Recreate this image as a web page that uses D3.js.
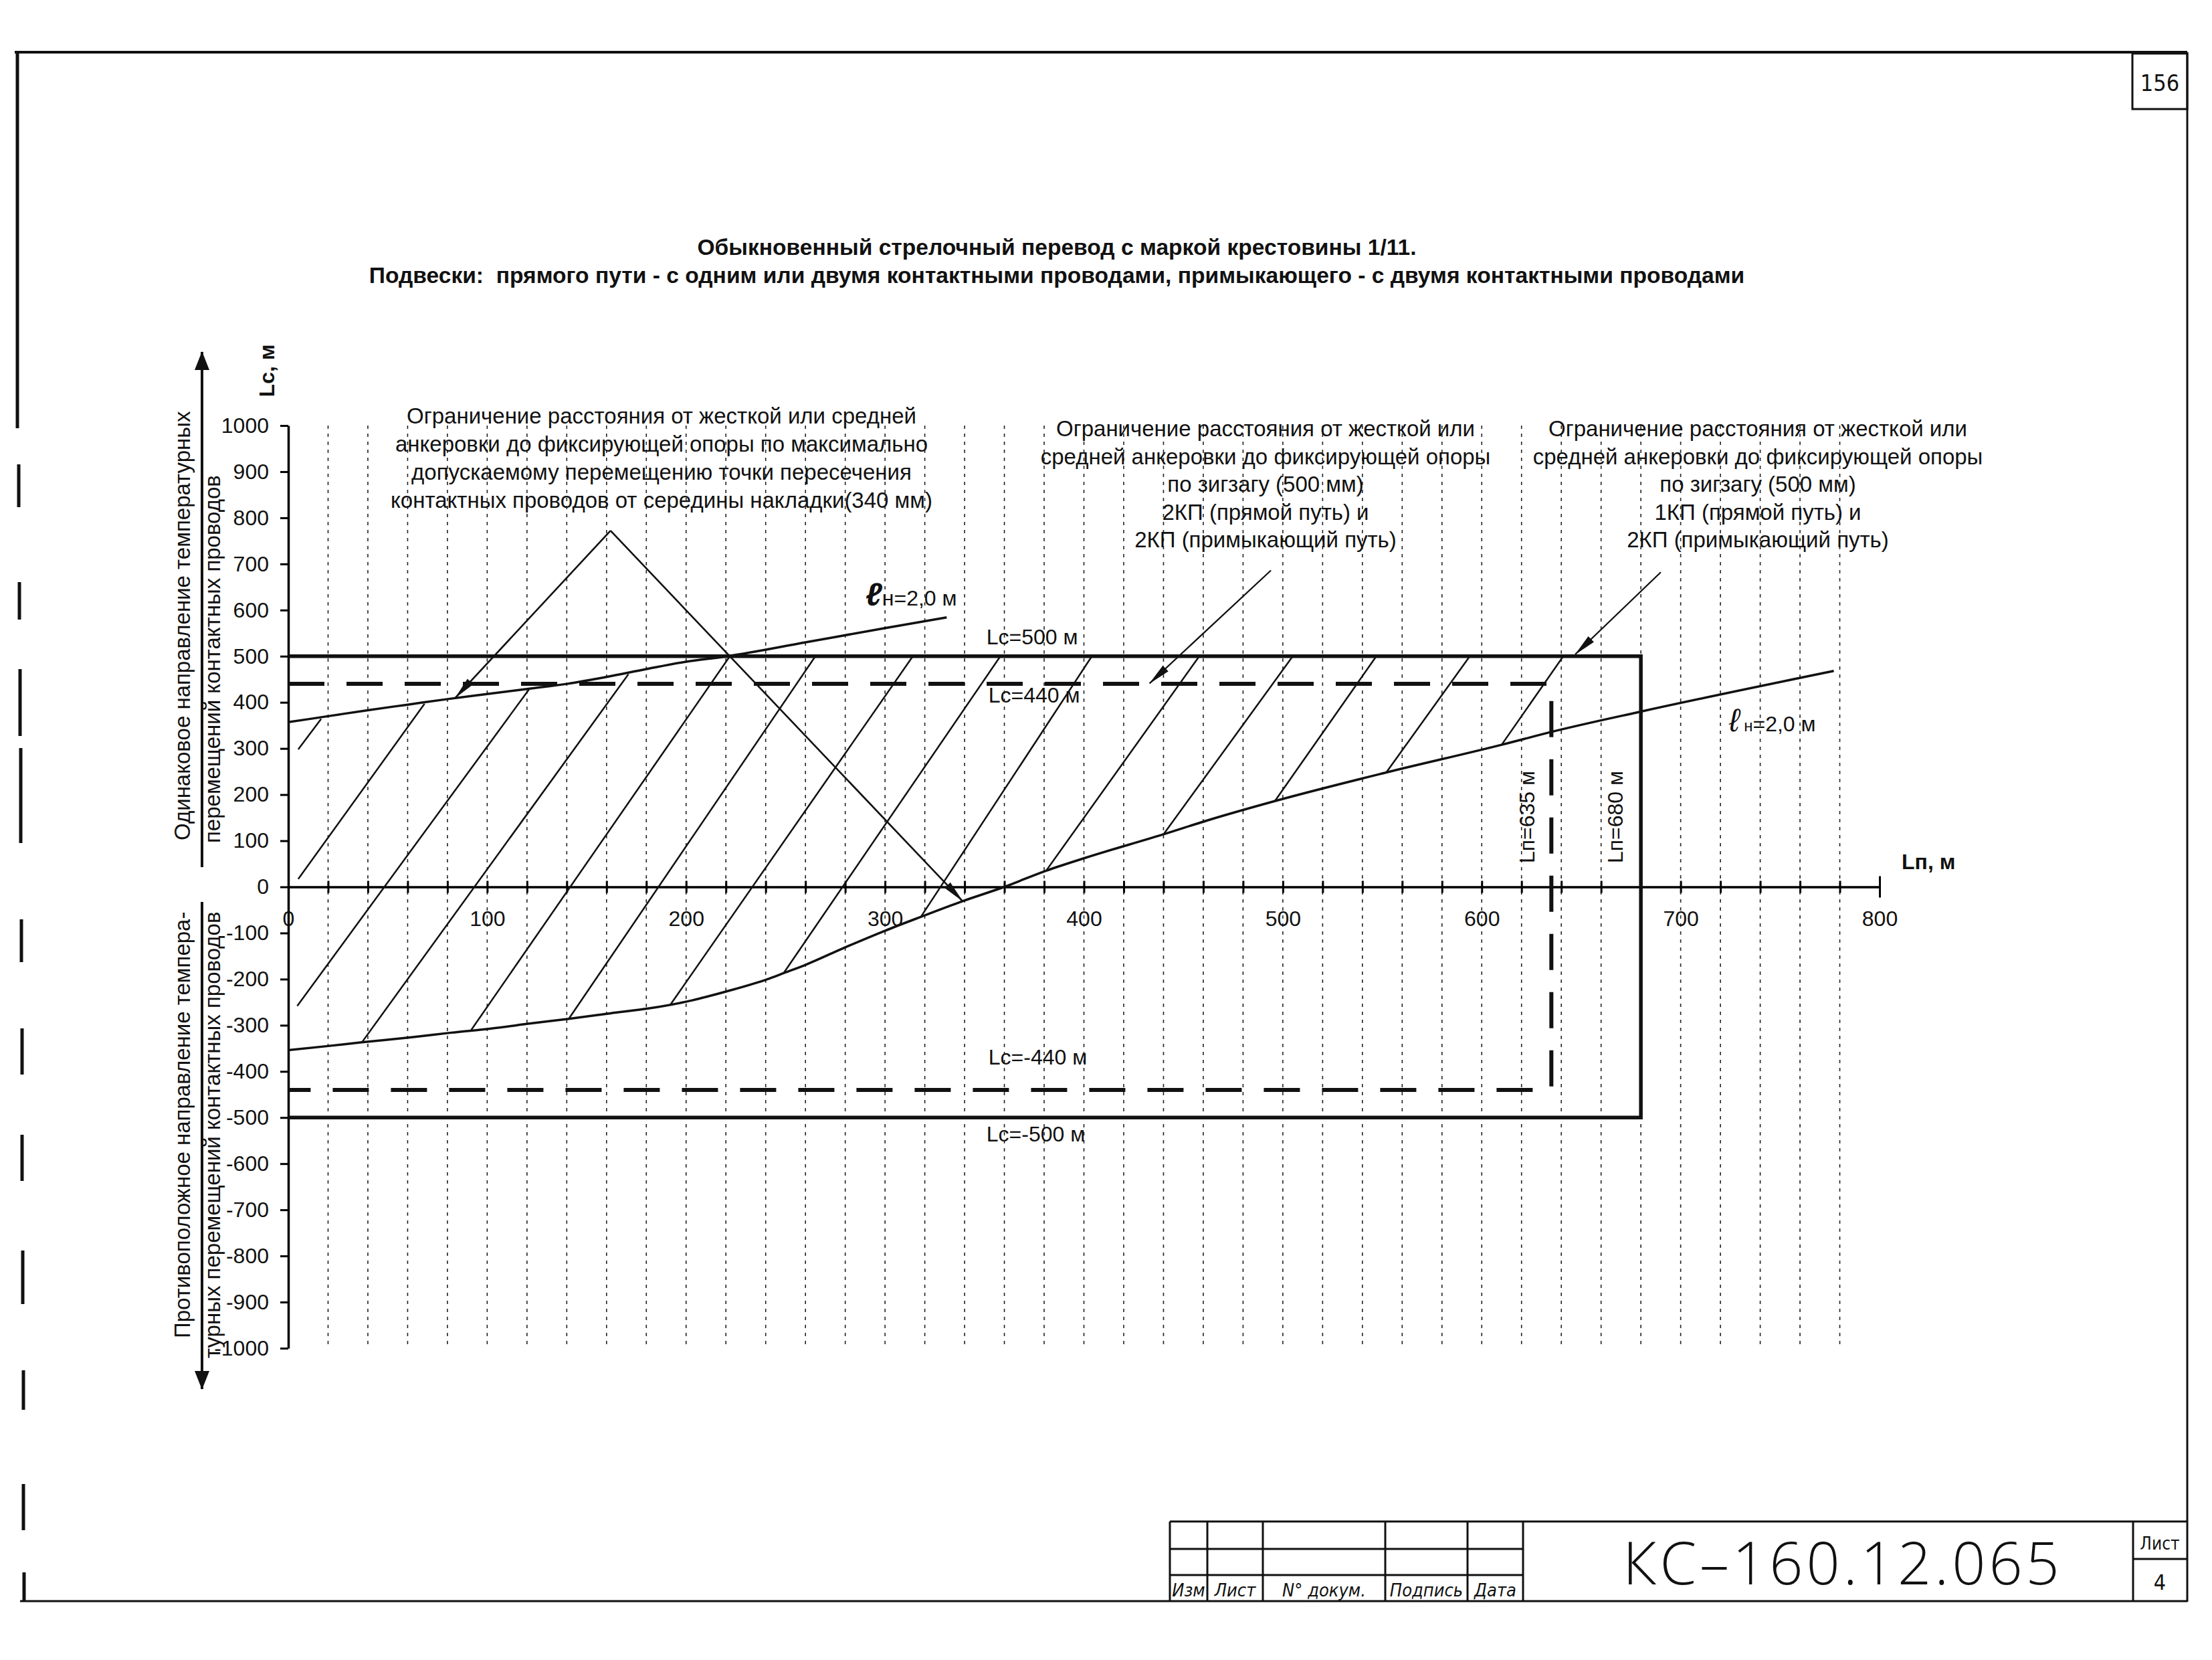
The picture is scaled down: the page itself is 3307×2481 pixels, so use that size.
<!DOCTYPE html>
<html>
<head>
<meta charset="utf-8">
<script src="https://cdn.jsdelivr.net/npm/d3@7"></script>
<style>
  html, body { margin: 0; padding: 0; background: #fff; }
  svg { display: block; }
  text { font-family: "Liberation Sans", Arial, sans-serif; fill: #111; white-space: pre; }
</style>
</head>
<body>
<div id="chart"></div>
<script>
// ---- values (Lп along x, Lс along y, metres) ----
const xTickValues = [0, 100, 200, 300, 400, 500, 600, 700, 800];
const yTickValues = [1000, 900, 800, 700, 600, 500, 400, 300, 200, 100, 0,
  -100, -200, -300, -400, -500, -600, -700, -800, -900, -1000];

// ℓн = 2,0 м, upper boundary
const upperLn = [[0, 357], [20, 370], [40, 383], [60, 395], [80, 407], [100, 418],
  [120, 429], [140, 440], [160, 455], [180, 472], [200, 488], [221, 500],
  [260, 530], [300, 561], [331, 584]];

// ℓн = 2,0 м, lower boundary
const lowerLn = [[0, -354], [20, -345], [37, -337], [62, -326], [82, -316], [102, -307],
  [122, -296], [141, -286], [162, -274], [182, -263], [203, -246], [220, -227],
  [241, -200], [249, -187], [260, -169], [280, -131], [300, -95], [318, -65],
  [339, -31], [360, 0], [381, 35], [400, 62], [440, 114], [462, 144], [496, 186],
  [552, 248], [610, 308], [636, 337], [680, 380], [777, 468]];

// hatching, [start, end]
const hatchLines = [
  [[5, 298], [16.5, 364]],
  [[5, 17], [68.5, 397]],
  [[4.5, -258], [121, 428]],
  [[37, -337], [171, 461]],
  [[92, -310], [222, 500]],
  [[141, -286], [265, 500]],
  [[192, -256], [314, 500]],
  [[249, -187], [358, 500]],
  [[318, -65], [404, 500]],
  [[381, 35], [458, 500]],
  [[440, 114], [505, 500]],
  [[496, 186], [547, 500]],
  [[552, 248], [594, 500]],
  [[610, 308], [641, 500]]
];

// limit of the crossing point displacement (340 мм)
const peakLeft = [[162, 772], [84, 410]];
const peakRight = [[162, 772], [339, -31]];

const solidLimit = [[0, 500], [680, 500], [680, -500], [0, -500]];
const dashedLimit = [[0, 440], [635, 440], [635, -440], [0, -440]];

const leaderMid = [[494, 686], [433, 441]];
const leaderRight = [[690, 682], [647, 504]];

const noteLeft = [
  "Ограничение расстояния от жесткой или средней",
  "анкеровки до фиксирующей опоры по максимально",
  "допускаемому перемещению точки пересечения",
  "контактных проводов от середины накладки(340 мм)"
];
const noteMid = [
  "Ограничение расстояния от жесткой или",
  "средней анкеровки до фиксирующей опоры",
  "по зигзагу (500 мм)",
  "2КП (прямой путь) и",
  "2КП (примыкающий путь)"
];
const noteRight = [
  "Ограничение расстояния от жесткой или",
  "средней анкеровки до фиксирующей опоры",
  "по зигзагу (500 мм)",
  "1КП (прямой путь) и",
  "2КП (примыкающий путь)"
];
const titleLines = [
  "Обыкновенный стрелочный перевод с маркой крестовины 1/11.",
  "Подвески:  прямого пути - с одним или двумя контактными проводами, примыкающего - с двумя контактными проводами"
];
const stampHeads = ["Изм", "Лист", "N° докум.", "Подпись", "Дата"];

// ---- drawing ----
const W = 3307, H = 2481;
const svg = d3.select("#chart").append("svg")
  .attr("width", W).attr("height", H);

const x = d3.scaleLinear().domain([0, 800]).range([431, 2810]);
const y = d3.scaleLinear().domain([-1000, 1000]).range([2015, 636]);
const line = d3.line().x(d => x(d[0])).y(d => y(d[1]));
const smooth = d3.line().x(d => x(d[0])).y(d => y(d[1])).curve(d3.curveMonotoneX);
const narrow = "'Liberation Sans Narrow','DejaVu Sans Condensed',sans-serif";

const defs = svg.append("defs");
defs.append("marker")
  .attr("id", "tip").attr("markerUnits", "userSpaceOnUse")
  .attr("viewBox", "0 0 34 14").attr("markerWidth", 34).attr("markerHeight", 14)
  .attr("refX", 33).attr("refY", 7).attr("orient", "auto")
  .append("path").attr("d", "M0,1L34,7L0,13Z").attr("fill", "#111");
defs.append("marker")
  .attr("id", "bigTip").attr("markerUnits", "userSpaceOnUse")
  .attr("viewBox", "0 0 28 22").attr("markerWidth", 28).attr("markerHeight", 22)
  .attr("refX", 27).attr("refY", 11).attr("orient", "auto")
  .append("path").attr("d", "M0,0L28,11L0,22Z").attr("fill", "#111");

// sheet frame
const frame = svg.append("g").attr("stroke", "#111").attr("fill", "none");
frame.append("line").attr("x1", 22).attr("y1", 78).attr("x2", 3270).attr("y2", 78).attr("stroke-width", 4);
frame.append("line").attr("x1", 3270).attr("y1", 78).attr("x2", 3270).attr("y2", 2394).attr("stroke-width", 3);
frame.append("line").attr("x1", 30).attr("y1", 2393).attr("x2", 3270).attr("y2", 2393).attr("stroke-width", 3);
const leftBits = [[78, 640, 26], [694, 758, 28], [870, 926, 29], [1000, 1100, 30], [1118, 1260, 31],
  [1374, 1438, 32], [1537, 1606, 33], [1696, 1765, 33], [1869, 1949, 34], [2048, 2107, 35],
  [2218, 2287, 35], [2350, 2394, 36]];
frame.selectAll(".lb").data(leftBits).join("line")
  .attr("x1", d => d[2]).attr("x2", d => d[2]).attr("y1", d => d[0]).attr("y2", d => d[1])
  .attr("stroke-width", 5);
frame.append("rect").attr("x", 3188).attr("y", 80).attr("width", 82).attr("height", 83).attr("stroke-width", 3);
svg.append("text").attr("x", 3229).attr("y", 136).attr("text-anchor", "middle")
  .attr("font-size", 34).style("font-family", narrow)
  .attr("font-stretch", "condensed").text("156");

// title block
const stamp = svg.append("g").attr("stroke", "#111").attr("fill", "none").attr("stroke-width", 3);
[2274, 2315, 2354].forEach(v => stamp.append("line").attr("x1", 1749).attr("x2", 2277).attr("y1", v).attr("y2", v));
stamp.append("line").attr("x1", 2277).attr("x2", 3270).attr("y1", 2274).attr("y2", 2274);
stamp.append("line").attr("x1", 3189).attr("x2", 3270).attr("y1", 2330).attr("y2", 2330);
[1749, 1805, 1888, 2071, 2194, 2277, 3189].forEach(v => stamp.append("line").attr("x1", v).attr("x2", v).attr("y1", 2274).attr("y2", 2393));
const stampCols = [1749, 1805, 1888, 2071, 2194, 2277];
svg.selectAll(".sh").data(stampHeads).join("text")
  .attr("x", (d, i) => (stampCols[i] + stampCols[i + 1]) / 2).attr("y", 2386)
  .attr("text-anchor", "middle").attr("font-size", 27).attr("font-style", "italic")
  .style("font-family", narrow)
  .attr("font-stretch", "condensed").text(d => d);
svg.append("text").attr("x", 2755).attr("y", 2368).attr("text-anchor", "middle")
  .attr("font-size", 88).attr("font-weight", 300).attr("letter-spacing", 5)
  .style("font-family", "'Open Sans',Lato,'Liberation Sans',sans-serif").text("КС–160.12.065");
svg.append("text").attr("x", 3229).attr("y", 2316).attr("text-anchor", "middle")
  .attr("font-size", 26).style("font-family", narrow)
  .attr("font-stretch", "condensed").text("Лист");
svg.append("text").attr("x", 3229).attr("y", 2376).attr("text-anchor", "middle")
  .attr("font-size", 32).style("font-family", narrow)
  .text("4");

// title
svg.selectAll(".title").data(titleLines).join("text")
  .attr("x", 1580).attr("y", (d, i) => 381 + i * 42)
  .attr("text-anchor", "middle").attr("font-size", 33.6).attr("font-weight", "bold")
  .text(d => d);

// vertical dotted grid
const grid = svg.append("g");
grid.selectAll("line").data(d3.range(20, 781, 20)).join("line")
  .attr("x1", d => x(d)).attr("x2", d => x(d))
  .attr("y1", y(1000)).attr("y2", y(-1000))
  .attr("stroke", "#222").attr("stroke-width", 1.6).attr("stroke-dasharray", "5,7");

// axes
const yAxis = svg.append("g").attr("transform", `translate(${x(0)},0)`)
  .call(d3.axisLeft(y).tickValues(yTickValues).tickSize(12).tickSizeOuter(0).tickPadding(17)
    .tickFormat(d => String(d)));
yAxis.select(".domain").attr("stroke-width", 3.5);
yAxis.selectAll(".tick line").attr("stroke-width", 3);
yAxis.selectAll("text").attr("font-size", 32).style("font-family", "'Liberation Sans', Arial, sans-serif").attr("fill", "#111");

const xAxis = svg.append("g").attr("transform", `translate(0,${y(0)})`)
  .call(d3.axisBottom(x).tickValues(d3.range(0, 801, 20)).tickSize(9).tickSizeOuter(0).tickPadding(27)
    .tickFormat(d => xTickValues.includes(d) ? String(d) : ""));
xAxis.select(".domain").attr("stroke-width", 3.5);
xAxis.selectAll(".tick line").attr("y1", d => d === 800 ? -16 : -9).attr("y2", d => d === 800 ? 16 : 9).attr("stroke-width", 3);
xAxis.selectAll("text").attr("font-size", 32).style("font-family", "'Liberation Sans', Arial, sans-serif").attr("fill", "#111");

// axis titles
svg.append("text").attr("x", 2843).attr("y", 1299).attr("font-size", 32).attr("font-weight", "bold").text("Lп, м");
svg.append("text").attr("transform", "translate(410,554) rotate(-90)").attr("text-anchor", "middle")
  .attr("font-size", 32).attr("font-weight", "bold").text("Lс, м");

// direction arrows and captions on the left
svg.append("line").attr("x1", 302).attr("x2", 302).attr("y1", 1296).attr("y2", 526)
  .attr("stroke", "#111").attr("stroke-width", 4).attr("marker-end", "url(#bigTip)");
svg.append("line").attr("x1", 302).attr("x2", 302).attr("y1", 1348).attr("y2", 2076)
  .attr("stroke", "#111").attr("stroke-width", 4).attr("marker-end", "url(#bigTip)");
const sideText = [
  ["Одинаковое направление температурных", 284, 1256],
  ["перемещений контактных проводов", 329, 1260],
  ["Противоположное направление темпера-", 284, 2000],
  ["турных перемещений контактных проводов", 329, 2030]
];
svg.selectAll(".side").data(sideText).join("text")
  .attr("transform", d => `translate(${d[1]},${d[2]}) rotate(-90)`)
  .attr("font-size", 33).text(d => d[0]);

// limit frames
svg.append("path").datum(dashedLimit).attr("d", line)
  .attr("fill", "none").attr("stroke", "#111").attr("stroke-width", 6).attr("stroke-dasharray", "54,33");
svg.append("path").datum(solidLimit).attr("d", line)
  .attr("fill", "none").attr("stroke", "#111").attr("stroke-width", 5.5);

// hatching
svg.append("g").selectAll("path").data(hatchLines).join("path")
  .attr("d", line).attr("fill", "none").attr("stroke", "#111").attr("stroke-width", 2.5);

// ℓн curves
[upperLn, lowerLn].forEach(c => svg.append("path").datum(c).attr("d", smooth)
  .attr("fill", "none").attr("stroke", "#111").attr("stroke-width", 3.5));

// displacement limit with arrows
[peakLeft, peakRight].forEach(c => svg.append("path").datum(c).attr("d", line)
  .attr("fill", "none").attr("stroke", "#111").attr("stroke-width", 2.6).attr("marker-end", "url(#tip)"));

// leaders
[leaderMid, leaderRight].forEach(c => svg.append("path").datum(c).attr("d", line)
  .attr("fill", "none").attr("stroke", "#111").attr("stroke-width", 2.3).attr("marker-end", "url(#tip)"));

// notes
function note(lines, cx, y0, step) {
  svg.append("g").selectAll("text").data(lines).join("text")
    .attr("x", cx).attr("y", (d, i) => y0 + i * step)
    .attr("text-anchor", "middle").attr("font-size", 33).text(d => d);
}
note(noteLeft, 989, 633, 42);
note(noteMid, 1892, 652, 41.5);
note(noteRight, 2628, 652, 41.5);

// limit labels
const labelAt = (t, lx, ly) => svg.append("text").attr("x", lx).attr("y", ly).attr("font-size", 32).text(t);
labelAt("Lс=500 м", x(351), 963);
labelAt("Lс=440 м", x(352), 1050);
labelAt("Lс=-440 м", x(352), 1591);
labelAt("Lс=-500 м", x(351), 1706);
svg.append("text").attr("transform", `translate(${x(635) - 25},1221) rotate(-90)`)
  .attr("text-anchor", "middle").attr("font-size", 32).text("Lп=635 м");
svg.append("text").attr("transform", `translate(${x(680) - 27},1221) rotate(-90)`)
  .attr("text-anchor", "middle").attr("font-size", 32).text("Lп=680 м");

// ℓн labels
const ln1 = svg.append("text").attr("x", 1294).attr("y", 905).attr("font-size", 32);
ln1.append("tspan").attr("font-size", 48).attr("font-style", "italic").attr("font-weight", "bold").text("ℓ");
ln1.append("tspan").text("н=2,0 м");
const ln2 = svg.append("text").attr("x", 2585).attr("y", 1093).attr("font-size", 32);
ln2.append("tspan").attr("font-size", 48).attr("font-style", "italic").text("ℓ");
ln2.append("tspan").attr("font-size", 24).text(" н");
ln2.append("tspan").text("=2,0 м");
</script>
</body>
</html>
